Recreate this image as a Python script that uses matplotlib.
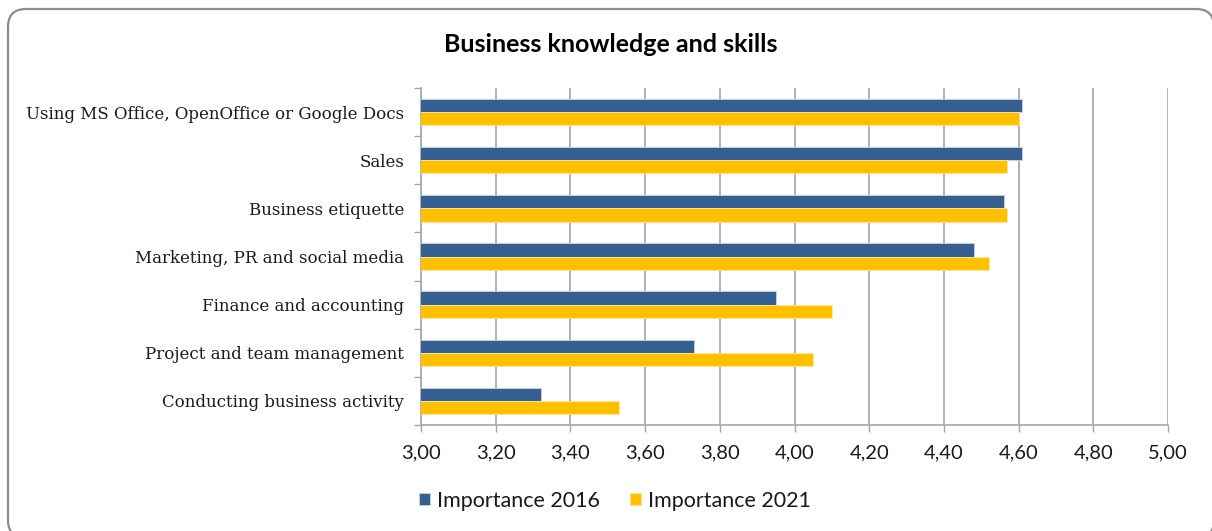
import matplotlib
matplotlib.use("Agg")
import matplotlib.pyplot as plt
import numpy as np
from matplotlib.patches import FancyBboxPatch
from matplotlib.transforms import IdentityTransform
from matplotlib.ticker import FuncFormatter, FixedLocator

categories = [
    "Using MS Office, OpenOffice or Google Docs",
    "Sales",
    "Business etiquette",
    "Marketing, PR and social media",
    "Finance and accounting",
    "Project and team management",
    "Conducting business activity",
]
importance_2016 = [4.61, 4.61, 4.56, 4.48, 3.95, 3.73, 3.32]
importance_2021 = [4.60, 4.57, 4.57, 4.52, 4.10, 4.05, 3.53]
series_names = ["Importance 2016", "Importance 2021"]
x_ticks = [3.0, 3.2, 3.4, 3.6, 3.8, 4.0, 4.2, 4.4, 4.6, 4.8, 5.0]

blue = "#376092"
gold = "#FFC000"
grid_col = "#A6A6A6"

W, H = 1212, 531
fig = plt.figure(figsize=(W / 100, H / 100), dpi=100)
fig.patch.set_facecolor("white")

# rounded outer frame (pixel coordinates, partly running off the canvas)
frame = FancyBboxPatch((8, H - 538), 1206, 529,
                       boxstyle="round,pad=0,rounding_size=18",
                       transform=IdentityTransform(), facecolor="white",
                       edgecolor="#8C8C8C", linewidth=1.6, zorder=-10)
fig.patches.append(frame)

ax = fig.add_axes([421 / W, 1 - 425 / H, 747 / W, 337 / H])
ax.set_zorder(2)
ax.patch.set_alpha(0)
n = len(categories)
y = np.arange(n)
h = 0.275
ax.barh(y - h / 2, importance_2016, height=h, left=0, color=blue,
        edgecolor="#C9D3E2", linewidth=0.6, zorder=3, label=series_names[0])
ax.barh(y + h / 2, importance_2021, height=h, left=0, color=gold,
        edgecolor="#FFE69A", linewidth=0.6, zorder=3, label=series_names[1])

ax.set_xlim(3.0, 5.0)
ax.set_ylim(n - 0.5, -0.5)
ax.set_xticks(x_ticks)
ax.xaxis.set_major_formatter(FuncFormatter(lambda v, p: f"{v:.2f}".replace(".", ",")))
ax.set_yticks(y)
ax.set_yticklabels(categories, fontfamily="DejaVu Serif", fontsize=12.0,
                   color="#1a1a1a")
ax.yaxis.set_minor_locator(FixedLocator(np.arange(-0.5, n, 1.0)))
ax.tick_params(axis="y", which="major", length=0, pad=12)
ax.tick_params(axis="y", which="minor", length=5, color=grid_col, width=1)
ax.tick_params(axis="x", length=5, color=grid_col, width=1, pad=9,
               labelsize=14.5)
for lab in ax.get_xticklabels():
    lab.set_fontfamily("Lato")
    lab.set_color("#1a1a1a")

ax.grid(axis="x", color=grid_col, linewidth=1.2, zorder=0)
for s in ["top", "right"]:
    ax.spines[s].set_visible(False)
for s in ["left", "bottom"]:
    ax.spines[s].set_color(grid_col)
    ax.spines[s].set_linewidth(1.2)

fig.text(611 / W, 1 - 45 / H, "Business knowledge and skills",
         ha="center", va="center", fontsize=18, fontweight="bold",
         fontfamily="Lato", color="black")

handles, labels = ax.get_legend_handles_labels()
leg = fig.legend(handles, labels, loc="center", ncol=2,
                 bbox_to_anchor=(615 / W, 1 - 501 / H), frameon=False,
                 prop={"family": "Lato", "size": 15.5}, handlelength=0.5,
                 handleheight=0.5, handletextpad=0.35, columnspacing=1.4)
for t in leg.get_texts():
    t.set_color("#1a1a1a")

fig.savefig("out.png", dpi=100, facecolor="white")
